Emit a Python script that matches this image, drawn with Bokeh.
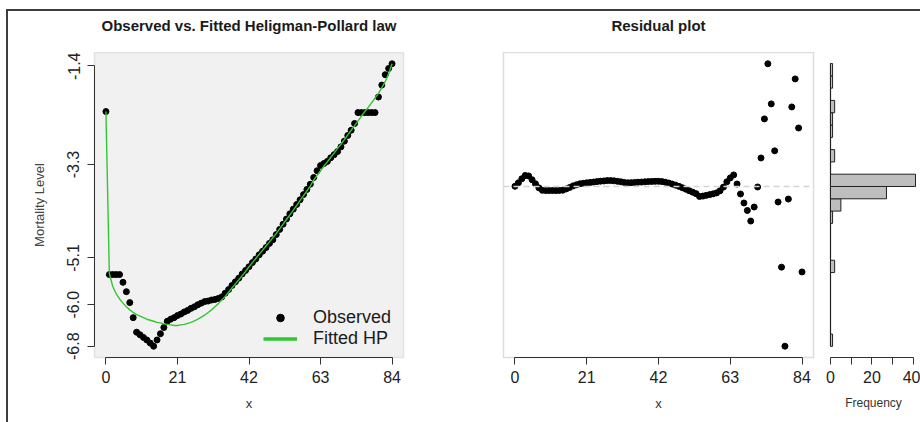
from bokeh.plotting import figure
from bokeh.layouts import row, column
from bokeh.models import Range1d, FixedTicker, PrintfTickFormatter, Legend, LegendItem, Span
from bokeh.core.properties import value
from bokeh.embed import file_html
from bokeh.resources import INLINE

FONT = "Liberation Sans"
GREEN = "#33c633"

# ---------------- data ----------------
ages = list(range(0, 85))

observed = [
    -2.28, -5.42, -5.42, -5.42, -5.42, -5.57, -5.75, -5.96, -6.25, -6.53,
    -6.58, -6.63, -6.68, -6.74, -6.80, -6.68, -6.56, -6.44, -6.32, -6.28,
    -6.25, -6.21, -6.18, -6.14, -6.11, -6.07, -6.04, -6.00, -5.97, -5.94,
    -5.93, -5.91, -5.90, -5.88, -5.85, -5.78, -5.71, -5.63, -5.56, -5.49,
    -5.41, -5.34, -5.27, -5.19, -5.12, -5.04, -4.97, -4.90, -4.82, -4.75,
    -4.65, -4.55, -4.45, -4.35, -4.25, -4.16, -4.07, -3.98, -3.88, -3.78,
    -3.68, -3.55, -3.42, -3.32, -3.28, -3.24, -3.17, -3.11, -3.05, -2.96,
    -2.85, -2.74, -2.64, -2.51, -2.30, -2.30, -2.30, -2.30, -2.30, -2.30,
    -2.00, -1.77, -1.57, -1.45, -1.36,
]

fitted = [
    -2.28, -5.40, -5.65, -5.79, -5.89, -5.97, -6.04, -6.10, -6.15, -6.19,
    -6.22, -6.25, -6.28, -6.30, -6.32, -6.34, -6.35, -6.37, -6.38, -6.39,
    -6.40, -6.40, -6.39, -6.38, -6.36, -6.34, -6.31, -6.28, -6.24, -6.20,
    -6.15, -6.10, -6.04, -5.98, -5.91, -5.84, -5.76, -5.68, -5.60, -5.52,
    -5.44, -5.36, -5.27, -5.19, -5.11, -5.03, -4.95, -4.87, -4.79, -4.71,
    -4.63, -4.54, -4.45, -4.36, -4.27, -4.18, -4.09, -3.99, -3.90, -3.81,
    -3.71, -3.60, -3.51, -3.42, -3.33, -3.25, -3.16, -3.08, -2.99, -2.91,
    -2.82, -2.73, -2.64, -2.55, -2.46, -2.37, -2.28, -2.20, -2.11, -2.02,
    -1.93, -1.82, -1.70, -1.55, -1.36,
]

residuals = [
    0.0002, 0.0030, 0.0063, 0.0090, 0.0086, 0.0055, 0.0022, -0.0011, -0.0031, -0.0033,
    -0.0033, -0.0033, -0.0033, -0.0032, -0.0030, -0.0020, -0.0008, 0.0005, 0.0014, 0.0022,
    0.0026, 0.0030, 0.0033, 0.0036, 0.0040, 0.0043, 0.0045, 0.0048, 0.0048, 0.0046,
    0.0042, 0.0038, 0.0033, 0.0030, 0.0031, 0.0033, 0.0035, 0.0036, 0.0038, 0.0040,
    0.0041, 0.0042, 0.0042, 0.0040, 0.0035, 0.0028, 0.0020, 0.0011, 0.0001, -0.0010,
    -0.0022, -0.0034, -0.0046, -0.0058, -0.0081, -0.0078, -0.0072, -0.0066, -0.0060, -0.0052,
    -0.0035, -0.0005, 0.0038, 0.0070, 0.0094, 0.0020, -0.0061, -0.0134, -0.0195, -0.0281,
    -0.0167, -0.0004, 0.0232, 0.0550, 0.0998, 0.0672, 0.0290, -0.0126, -0.0656, -0.1299,
    -0.0102, 0.0647, 0.0875, 0.0476, -0.0695,
]

hist_edges = [
    -0.13, -0.12, -0.11, -0.10, -0.09, -0.08, -0.07, -0.06, -0.05, -0.04, -0.03, -0.02,
    -0.01, 0.00, 0.01, 0.02, 0.03, 0.04, 0.05, 0.06, 0.07, 0.08, 0.09, 0.10,
]
hist_counts = [1, 0, 0, 0, 0, 0, 2, 0, 0, 0, 1, 5, 27, 41, 0, 2, 0, 1, 1, 2, 0, 1, 1]

x_ticks = [0, 21, 42, 63, 84]
y_ticks = [-6.8, -6.0, -5.1, -3.3, -1.4]
freq_ticks = [0, 10, 20, 30, 40]
freq_labels = {0: "0", 10: "", 20: "20", 30: "", 40: "40"}
titles = ["Observed vs. Fitted Heligman-Pollard law", "Residual plot"]


def padded(lo, hi, frac=0.04):
    d = (hi - lo) * frac
    return lo - d, hi + d


xlo, xhi = padded(min(ages), max(ages))
ylo, yhi = padded(min(observed), max(observed))
rlo, rhi = padded(min(residuals), max(residuals))
x_range_a = Range1d(xlo, xhi)
x_range_b = Range1d(xlo, xhi)
res_range = Range1d(rlo, rhi)

TITLE_H = 41          # height of the title strip above the panels
TITLE_CENTRE = 14     # px from the strip top to the title centre
H = 370
BOTTOM = 65


def style_xaxis(ax, label, label_size="13px"):
    ax.axis_label = label
    ax.axis_label_text_font = FONT
    ax.axis_label_text_font_size = label_size
    ax.axis_label_text_font_style = "normal"
    ax.axis_label_text_color = "#333333"
    ax.axis_label_standoff = 10
    ax.major_label_text_font = FONT
    ax.major_label_text_font_size = "16px"
    ax.major_label_text_color = "#222222"
    ax.major_label_standoff = 6
    ax.major_tick_in = 0
    ax.major_tick_out = 7
    ax.minor_tick_line_color = None
    ax.axis_line_color = "#333333"
    ax.major_tick_line_color = "#333333"


def title_strip(text, width, left, right, xr):
    t = figure(width=width, height=TITLE_H, x_range=xr, y_range=Range1d(TITLE_H, 0),
               output_backend="svg", toolbar_location=None,
               x_axis_location=None, y_axis_location=None,
               min_border_left=left, min_border_right=right, min_border_top=0, min_border_bottom=0)
    t.grid.visible = False
    t.outline_line_color = None
    t.text(x=[(xr.start + xr.end) / 2], y=[TITLE_CENTRE], text=[text],
           text_align="center", text_baseline="middle", text_font=value(FONT),
           text_font_size="15px", text_font_style="bold", text_color="#1a1a1a")
    return t


# ---------------- left: observed vs fitted ----------------
pa = figure(width=450, height=H, x_range=x_range_a, y_range=Range1d(ylo, yhi),
            output_backend="svg", toolbar_location=None,
            min_border_left=86, min_border_right=55, min_border_top=0, min_border_bottom=BOTTOM)
pa.grid.visible = False
pa.background_fill_color = "#f1f1f1"
pa.outline_line_color = "#e2e2e2"
pa.outline_line_width = 1.5

obs_r = pa.scatter(ages, observed, size=6, color="black")
pa.line(ages, fitted, line_color=GREEN, line_width=1.4)
leg_line = pa.line(x=[float("nan")], y=[float("nan")], line_color=GREEN, line_width=3.5)

style_xaxis(pa.xaxis[0], "x")
pa.xaxis.ticker = FixedTicker(ticks=x_ticks)
pa.xaxis.bounds = (x_ticks[0], x_ticks[-1])

ya = pa.yaxis[0]
ya.ticker = FixedTicker(ticks=y_ticks)
ya.bounds = (y_ticks[0], y_ticks[-1])
ya.formatter = PrintfTickFormatter(format="%.1f")
ya.major_label_orientation = "vertical"
ya.major_label_text_font = FONT
ya.major_label_text_font_size = "16px"
ya.major_label_text_color = "#222222"
ya.major_label_standoff = 8
ya.major_tick_in = 0
ya.major_tick_out = 7
ya.minor_tick_line_color = None
ya.axis_line_color = "#333333"
ya.major_tick_line_color = "#333333"
ya.axis_label = "Mortality Level"
ya.axis_label_text_font = FONT
ya.axis_label_text_font_size = "13px"
ya.axis_label_text_font_style = "normal"
ya.axis_label_text_color = "#444444"
ya.axis_label_standoff = 18

legend = Legend(items=[LegendItem(label="Observed", renderers=[obs_r]),
                       LegendItem(label="Fitted HP", renderers=[leg_line])],
                location=(169, 8), orientation="vertical",
                background_fill_alpha=0, border_line_alpha=0,
                label_text_font=FONT, label_text_font_size="18px", label_text_color="#1a1a1a",
                glyph_width=34, glyph_height=19, label_height=19, label_standoff=16,
                spacing=0, padding=0, margin=0)
pa.add_layout(legend)

# ---------------- middle: residual plot ----------------
pb = figure(width=360, height=H, x_range=x_range_b, y_range=res_range,
            output_backend="svg", toolbar_location=None, y_axis_location=None,
            min_border_left=45, min_border_right=5, min_border_top=0, min_border_bottom=BOTTOM)
pb.grid.visible = False
pb.outline_line_color = "#dddddd"
pb.outline_line_width = 1.5
pb.add_layout(Span(location=0, dimension="width", line_color="#d4d4d4",
                   line_dash="6 4", line_width=1.5))
pb.scatter(ages, residuals, size=6, color="black")
style_xaxis(pb.xaxis[0], "x")
pb.xaxis.ticker = FixedTicker(ticks=x_ticks)
pb.xaxis.bounds = (x_ticks[0], x_ticks[-1])

# ---------------- right: histogram of residuals ----------------
pc = figure(width=102, height=H, x_range=Range1d(-1.93, 43.4), y_range=res_range,
            output_backend="svg", toolbar_location=None, y_axis_location=None,
            min_border_left=8, min_border_right=0, min_border_top=0, min_border_bottom=BOTTOM)
pc.grid.visible = False
pc.outline_line_color = None
pc.segment(x0=[0], y0=[hist_edges[0]], x1=[0], y1=[hist_edges[-1]],
           line_color="#222222", line_width=1.2)
pc.quad(left=[0] * len(hist_counts), right=hist_counts,
        bottom=hist_edges[:-1], top=hist_edges[1:],
        fill_color="#bebebe", line_color="#222222", line_width=1)
style_xaxis(pc.xaxis[0], "Frequency", label_size="12px")
pc.xaxis.ticker = FixedTicker(ticks=freq_ticks)
pc.xaxis.major_label_overrides = freq_labels
pc.xaxis.bounds = (freq_ticks[0], freq_ticks[-1])

ta = title_strip(titles[0], 450, 86, 55, x_range_a)
tb = title_strip(titles[1], 360, 45, 5, x_range_b)

layout = column(row(ta, tb), row(pa, pb, pc),
                styles={"margin-top": "9px", "margin-left": "6px",
                        "border-top": "2px solid #3d3d3d",
                        "border-left": "2px solid #3d3d3d"})

open("out.html", "w").write(file_html(layout, INLINE))
